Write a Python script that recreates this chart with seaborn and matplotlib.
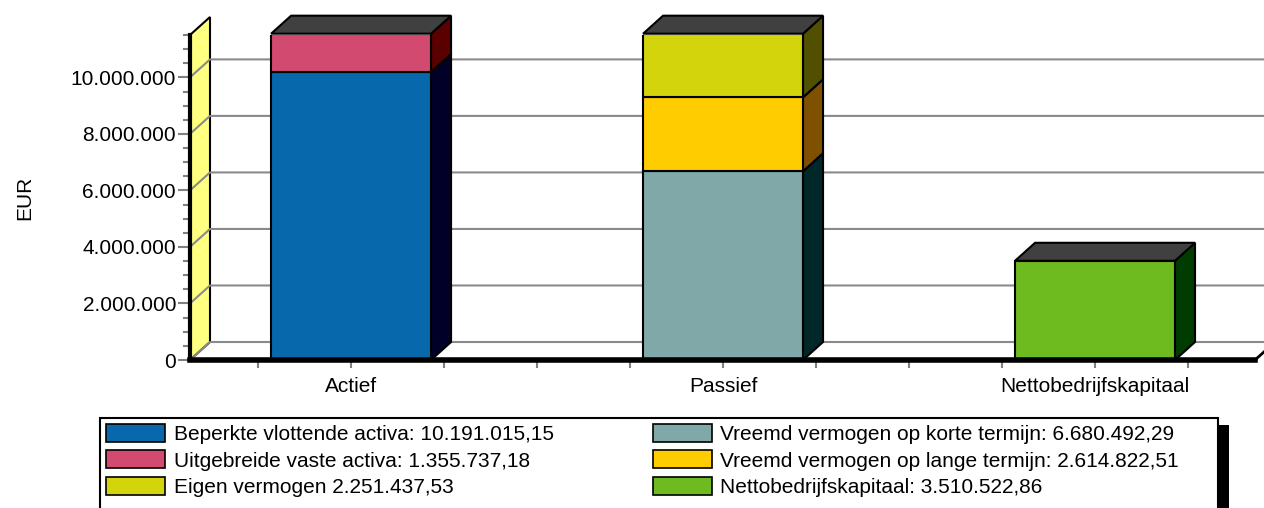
import matplotlib
matplotlib.use("Agg")
import matplotlib.pyplot as plt
import seaborn as sns
from matplotlib.patches import Polygon, Patch, Rectangle
from matplotlib.ticker import FuncFormatter, MultipleLocator

# Data
categories = ["Actief", "Passief", "Nettobedrijfskapitaal"]
seg_category = ["Actief", "Actief", "Passief", "Passief", "Passief", "Nettobedrijfskapitaal"]
seg_values = [10191015.15, 1355737.18, 6680492.29, 2614822.51, 2251437.53, 3510522.86]
seg_colors = ["#0868AC", "#D24A70", "#80A8A8", "#FFCC00", "#D4D40C", "#6EBB20"]
seg_sides = ["#000028", "#5A0000", "#002828", "#7F5000", "#505000", "#003C00"]
legend_labels = [
    "Beperkte vlottende activa: 10.191.015,15",
    "Uitgebreide vaste activa: 1.355.737,18",
    "Vreemd vermogen op korte termijn: 6.680.492,29",
    "Vreemd vermogen op lange termijn: 2.614.822,51",
    "Eigen vermogen 2.251.437,53",
    "Nettobedrijfskapitaal: 3.510.522,86",
]
legend_order = [0, 1, 4, 2, 3, 5]

sns.set_style("white")
plt.rcParams["font.family"] = ["Liberation Sans", "DejaVu Sans"]
plt.rcParams["text.color"] = "black"

W, H = 1264, 508
fig = plt.figure(figsize=(W / 100, H / 100), dpi=100)
ax = fig.add_axes([190 / W, (H - 360) / H, (1255 - 190) / W, (360 - 35) / H])

# stacked bars, one seaborn call per segment
bottoms = {c: 0.0 for c in categories}
for cat, val, col in zip(seg_category, seg_values, seg_colors):
    sns.barplot(x=[cat], y=[val], order=categories, bottom=bottoms[cat], color=col,
                width=0.43, edgecolor="black", linewidth=1.5, saturation=1, ax=ax, zorder=3)
    bottoms[cat] += val

ax.set_xlim(-0.433, 2.43)
ax.set_ylim(0, 11.5e6)

# pixel offset of the 3D depth, in data units
x0, x1 = ax.get_xlim()
y0, y1 = ax.get_ylim()
ddx = 20 * (x1 - x0) / (1255 - 190)
ddy = 18 * (y1 - y0) / (360 - 35)

# back wall gridlines and the yellow side wall
for yv in range(0, 11000001, 2000000):
    ax.plot([x0, x0 + ddx, x1 + ddx], [yv, yv + ddy, yv + ddy], color="#8a8a8a", lw=1.5,
            zorder=1, clip_on=False)
wall = Polygon([(x0, y0), (x0, y1), (x0 + ddx, y1 + ddy), (x0 + ddx, y0 + ddy)],
               closed=True, facecolor="#FFFF80", edgecolor="black", lw=1.5, zorder=0.5, clip_on=False)
ax.add_patch(wall)
ax.plot([x1, x1 + ddx], [y0, y0 + ddy], color="black", lw=2, zorder=4, clip_on=False)

# side and top faces of the bars
tops = {}
for p, side in zip(ax.patches[:len(seg_values)], seg_sides):
    bx, by, bw, bh = p.get_x(), p.get_y(), p.get_width(), p.get_height()
    r = bx + bw
    ax.add_patch(Polygon([(r, by), (r, by + bh), (r + ddx, by + bh + ddy), (r + ddx, by + ddy)],
                         closed=True, facecolor=side, edgecolor="black", lw=1.5, zorder=3, clip_on=False))
    key = round(bx, 3)
    if key not in tops or by + bh > tops[key][1]:
        tops[key] = (bw, by + bh)
for bx, (bw, top) in tops.items():
    ax.add_patch(Polygon([(bx, top), (bx + bw, top), (bx + bw + ddx, top + ddy), (bx + ddx, top + ddy)],
                         closed=True, facecolor="#404040", edgecolor="black", lw=1.5, zorder=3, clip_on=False))

# axes styling
for s in ["top", "right"]:
    ax.spines[s].set_visible(False)
ax.spines["left"].set_linewidth(3)
ax.spines["bottom"].set_linewidth(4)
ax.spines["left"].set_color("black")
ax.spines["bottom"].set_color("black")
ax.spines["bottom"].set_zorder(5)

ax.yaxis.set_major_locator(MultipleLocator(2000000))
ax.yaxis.set_minor_locator(MultipleLocator(500000))
ax.yaxis.set_major_formatter(FuncFormatter(lambda v, _: f"{int(v):,}".replace(",", ".")))
ax.xaxis.set_minor_locator(MultipleLocator(0.25))
ax.tick_params(axis="y", which="major", left=True, length=9, width=1.5, color="#808080",
               labelsize=15, pad=1, labelcolor="black")
ax.tick_params(axis="y", which="minor", left=True, length=5, width=1.5, color="#808080")
ax.tick_params(axis="x", which="both", bottom=True, length=6, width=1.5, color="#808080",
               labelsize=15, pad=6, labelcolor="black")
ax.set_xlabel("")
ax.set_ylabel("EUR", fontsize=15, labelpad=26, color="black")
ax.set_facecolor("none")

# legend box with shadow, drawn in figure pixels
fig.patches.append(Rectangle((107, -20), 1122, H - 425 + 20, transform=None,
                             facecolor="black", edgecolor="none", zorder=1))
fig.patches.append(Rectangle((100, -20), 1118, H - 418 + 20, transform=None,
                             facecolor="white", edgecolor="black", lw=1.5, zorder=2))

handles = [Patch(facecolor=seg_colors[i], edgecolor="black", lw=1.2) for i in legend_order]
labels = [legend_labels[i] for i in legend_order]
leg = fig.legend(handles, labels, loc="upper left", bbox_to_anchor=(106 / W, 1 - 424 / H),
                 ncol=2, fontsize=15, frameon=False, borderaxespad=0, borderpad=0,
                 handlelength=2.85, handleheight=0.95, handletextpad=0.4,
                 labelspacing=0.3, columnspacing=4.75, labelcolor="black")
leg.set_zorder(3)

fig.savefig("out.png", dpi=100)
